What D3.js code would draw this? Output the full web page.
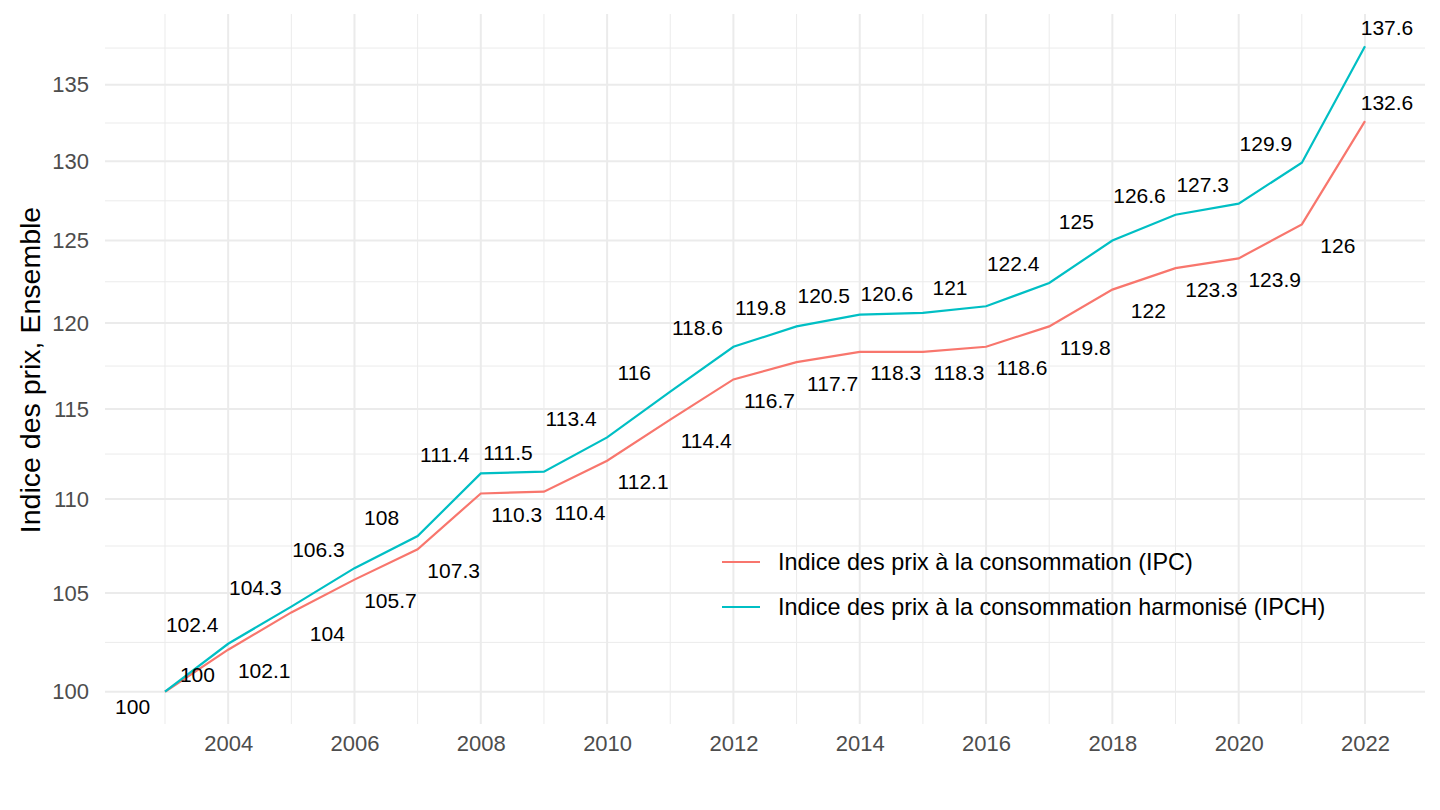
<!DOCTYPE html>
<html>
<head>
<meta charset="utf-8">
<script src="https://cdn.jsdelivr.net/npm/d3@7"></script>
<style>
  body { margin: 0; background: #fff; }
  svg { font-family: "Liberation Sans", Arial, sans-serif; }
</style>
</head>
<body>
<div id="chart"></div>
<script>
// Data (base 100 in 2003)
const years = [2003, 2004, 2005, 2006, 2007, 2008, 2009, 2010, 2011, 2012,
               2013, 2014, 2015, 2016, 2017, 2018, 2019, 2020, 2021, 2022];
const ipc  = [100, 102.1, 104, 105.7, 107.3, 110.3, 110.4, 112.1, 114.4, 116.7,
              117.7, 118.3, 118.3, 118.6, 119.8, 122, 123.3, 123.9, 126, 132.6];
const ipch = [100, 102.4, 104.3, 106.3, 108, 111.4, 111.5, 113.4, 116, 118.6,
              119.8, 120.5, 120.6, 121, 122.4, 125, 126.6, 127.3, 129.9, 137.6];
const seriesNames = ["Indice des prix à la consommation (IPC)",
                     "Indice des prix à la consommation harmonisé (IPCH)"];
const yTicks = [100, 105, 110, 115, 120, 125, 130, 135];
const xTicks = [2004, 2006, 2008, 2010, 2012, 2014, 2016, 2018, 2020, 2022];
const yTitle = "Indice des prix, Ensemble";

const W = 1440, H = 810;
const margin = { top: 14, right: 15, bottom: 86, left: 105 };
const width = W - margin.left - margin.right,
      height = H - margin.top - margin.bottom;

const fontFamily = "Liberation Sans, Arial, sans-serif";
const colors = ["#F8766D", "#00BFC4"];
const series = [
  { name: seriesNames[0], values: ipc, color: colors[0], dx: 36, dy: 21 },
  { name: seriesNames[1], values: ipch, color: colors[1], dx: -36, dy: -19 }
];

const svg = d3.select("#chart").append("svg")
  .attr("width", W).attr("height", H)
  .style("font-family", fontFamily);
const g = svg.append("g").attr("transform", `translate(${margin.left},${margin.top})`);

// ggplot-like expansion (5%) on both axes
const xExt = d3.extent(years), xPad = (xExt[1] - xExt[0]) * 0.05;
const x = d3.scaleLinear().domain([xExt[0] - xPad, xExt[1] + xPad]).range([0, width]);

const allVals = ipc.concat(ipch);
const lmin = Math.log10(d3.min(allVals)), lmax = Math.log10(d3.max(allVals));
const lpad = (lmax - lmin) * 0.05;
const y = d3.scaleLog().domain([10 ** (lmin - lpad), 10 ** (lmax + lpad)]).range([height, 0]);

// minor grid: midpoints in transformed space
const yStep = yTicks[1] - yTicks[0];
const yMinor = yTicks.map(a => Math.sqrt(a * (a + yStep)));
const xMinor = xTicks.map(v => v - 1).concat([xTicks[xTicks.length - 1] + 1])
  .filter(v => v >= x.domain()[0] && v <= x.domain()[1]);

const grid = g.append("g");
grid.append("g").selectAll("line").data(yMinor.filter(v => y(v) >= 0)).join("line")
  .attr("x1", 0).attr("x2", width)
  .attr("y1", d => y(d)).attr("y2", d => y(d))
  .attr("stroke", "#EBEBEB").attr("stroke-width", 1);
grid.append("g").selectAll("line").data(xMinor).join("line")
  .attr("y1", 0).attr("y2", height)
  .attr("x1", d => x(d)).attr("x2", d => x(d))
  .attr("stroke", "#EBEBEB").attr("stroke-width", 1);
grid.append("g").selectAll("line").data(yTicks).join("line")
  .attr("x1", 0).attr("x2", width)
  .attr("y1", d => y(d)).attr("y2", d => y(d))
  .attr("stroke", "#EBEBEB").attr("stroke-width", 2);
grid.append("g").selectAll("line").data(xTicks).join("line")
  .attr("y1", 0).attr("y2", height)
  .attr("x1", d => x(d)).attr("x2", d => x(d))
  .attr("stroke", "#EBEBEB").attr("stroke-width", 2);

// Axes (no domain line, no ticks — theme_minimal)
const yAxis = g.append("g")
  .call(d3.axisLeft(y).tickValues(yTicks).tickFormat(d3.format("d")).tickSize(0).tickPadding(16));
yAxis.select(".domain").remove();
yAxis.selectAll("text").style("font-size", "22px").attr("fill", "#4D4D4D")
  .style("font-family", fontFamily);

const xAxis = g.append("g").attr("transform", `translate(0,${height})`)
  .call(d3.axisBottom(x).tickValues(xTicks).tickFormat(d3.format("d")).tickSize(0).tickPadding(11));
xAxis.select(".domain").remove();
xAxis.selectAll("text").style("font-size", "22px").attr("fill", "#4D4D4D")
  .style("font-family", fontFamily);

svg.append("text")
  .attr("transform", `translate(40,${margin.top + height / 2 + 1}) rotate(-90)`)
  .attr("text-anchor", "middle")
  .style("font-size", "28.5px")
  .attr("fill", "#000")
  .text(yTitle);

// Lines
const line = d3.line().x((d, i) => x(years[i])).y(d => y(d));
series.forEach(s => {
  g.append("path").datum(s.values)
    .attr("d", line)
    .attr("fill", "none")
    .attr("stroke", s.color)
    .attr("stroke-width", 2.2);
});

// Value labels: IPCH above-left, IPC below-right;
// first point flipped, last point above-right (inside the panel)
series.forEach(s => {
  const n = s.values.length;
  g.append("g").selectAll("text").data(s.values).join("text")
    .style("font-size", "21px")
    .attr("fill", "#000")
    .attr("text-anchor", "middle")
    .attr("dominant-baseline", "central")
    .text(d => d3.format("~g")(d))
    .each(function (d, i) {
      const px = x(years[i]), py = y(d);
      let lx = px + s.dx, ly = py + s.dy;
      if (i === 0) { lx = px + s.dx * 0.9; ly = py - s.dy * 0.8; }
      if (i === n - 1) { lx = px + 22; ly = py - 19; }
      d3.select(this).attr("x", lx).attr("y", ly);
    });
});

// Legend
const legend = svg.append("g").attr("transform", "translate(722,562)");
series.forEach((s, i) => {
  const row = legend.append("g").attr("transform", `translate(0,${i * 45})`);
  row.append("line").attr("x1", 0).attr("x2", 38).attr("y1", 0).attr("y2", 0)
    .attr("stroke", s.color).attr("stroke-width", 2.2);
  row.append("text").attr("x", 56).attr("y", 0)
    .attr("dominant-baseline", "central")
    .style("font-size", "23.4px").attr("fill", "#000")
    .text(s.name);
});
</script>
</body>
</html>
